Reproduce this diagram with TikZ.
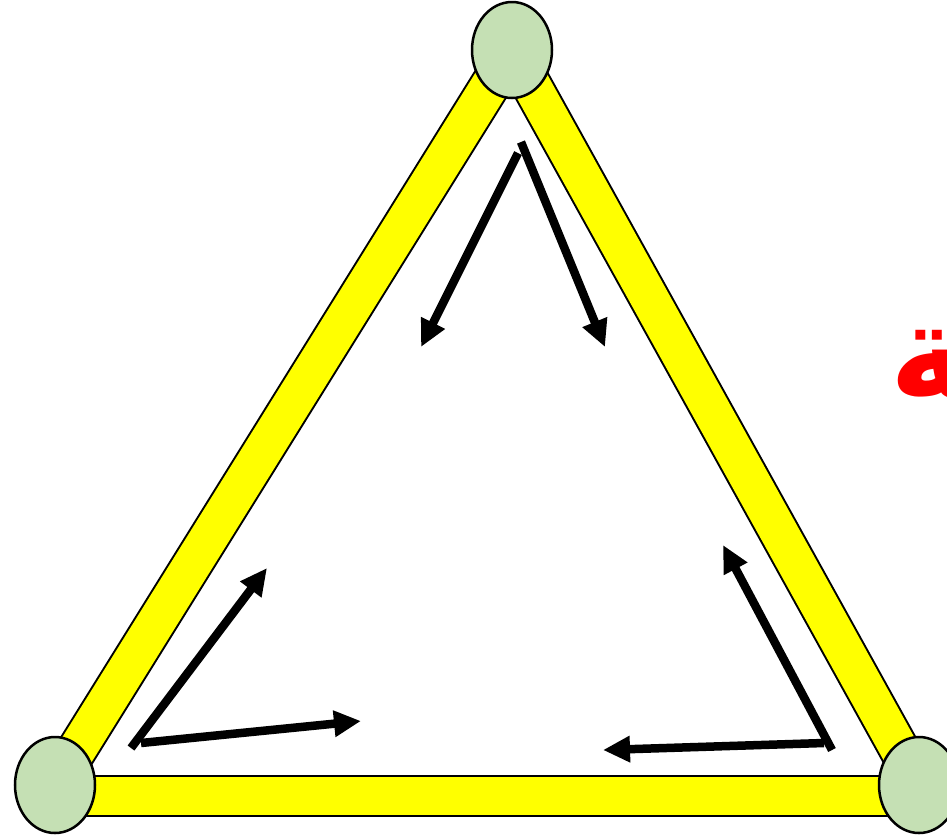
\documentclass[tikz,border=0pt]{standalone}
\usepackage{fontspec}
\usetikzlibrary{arrows.meta,shapes.geometric,backgrounds}
\TeXXeTstate=1
\newfontfamily\arabicfont[Script=Arabic]{DejaVu Sans}
\definecolor{nodegreen}{HTML}{C5E0B4}
\definecolor{baryellow}{HTML}{FFFF00}
\definecolor{txtred}{HTML}{FF0000}
\begin{document}
\begin{tikzpicture}[x=1pt,y=-1pt,
  joint/.style={ellipse, draw=black, line width=2.5pt, fill=nodegreen,
    minimum width=80pt, minimum height=96pt, inner sep=0pt},
  barout/.style={line width=42pt, draw=black},
  barin/.style={line width=38pt, draw=baryellow},
  forcearrow/.style={line width=8.5pt, -{Triangle[length=27pt,width=25pt]}},
  redword/.style={font=\arabicfont\bfseries\fontsize{135}{145}\selectfont, text=txtred, inner sep=0pt}]
\useasboundingbox (0,0) rectangle (947,836);
\clip (0,0) rectangle (947,836);

\node[joint] (top) at (512,50) {};
\node[joint] (bl) at (55,785) {};
\node[joint] (br) at (919,785) {};

\begin{scope}[on background layer]
  \draw[barout] (bl.center) -- (top.center);
  \draw[barout] (top.center) -- (br.center);
  \draw[barout] ([yshift=-11pt]bl.center) -- ([yshift=-11pt]br.center);
  \draw[barin] (bl.center) -- (top.center);
  \draw[barin] (top.center) -- (br.center);
  \draw[barin] ([yshift=-11pt]bl.center) -- ([yshift=-11pt]br.center);
\end{scope}

% arrows near the top
\coordinate (t1s) at (518,153);
\coordinate (t1e) at (421,347);
\coordinate (t2s) at (521,142);
\coordinate (t2e) at (605,347);
\draw[forcearrow] (t1s) -- (t1e);
\draw[forcearrow] (t2s) -- (t2e);

% arrows near the bottom left
\coordinate (l1s) at (131,748);
\coordinate (l1e) at (267,568);
\coordinate (l2s) at (141,743);
\coordinate (l2e) at (361,721);
\draw[forcearrow] (l1s) -- (l1e);
\draw[forcearrow] (l2s) -- (l2e);

% arrows near the bottom right
\coordinate (r1s) at (832,750);
\coordinate (r1e) at (723,545);
\coordinate (r2s) at (824,743);
\coordinate (r2e) at (603,750);
\draw[forcearrow] (r1s) -- (r1e);
\draw[forcearrow] (r2s) -- (r2e);

% red word, cut off at the right edge
\node[redword, anchor=base west] (word) at (889,399) {\beginR ــة\endR};
\end{tikzpicture}
\end{document}
